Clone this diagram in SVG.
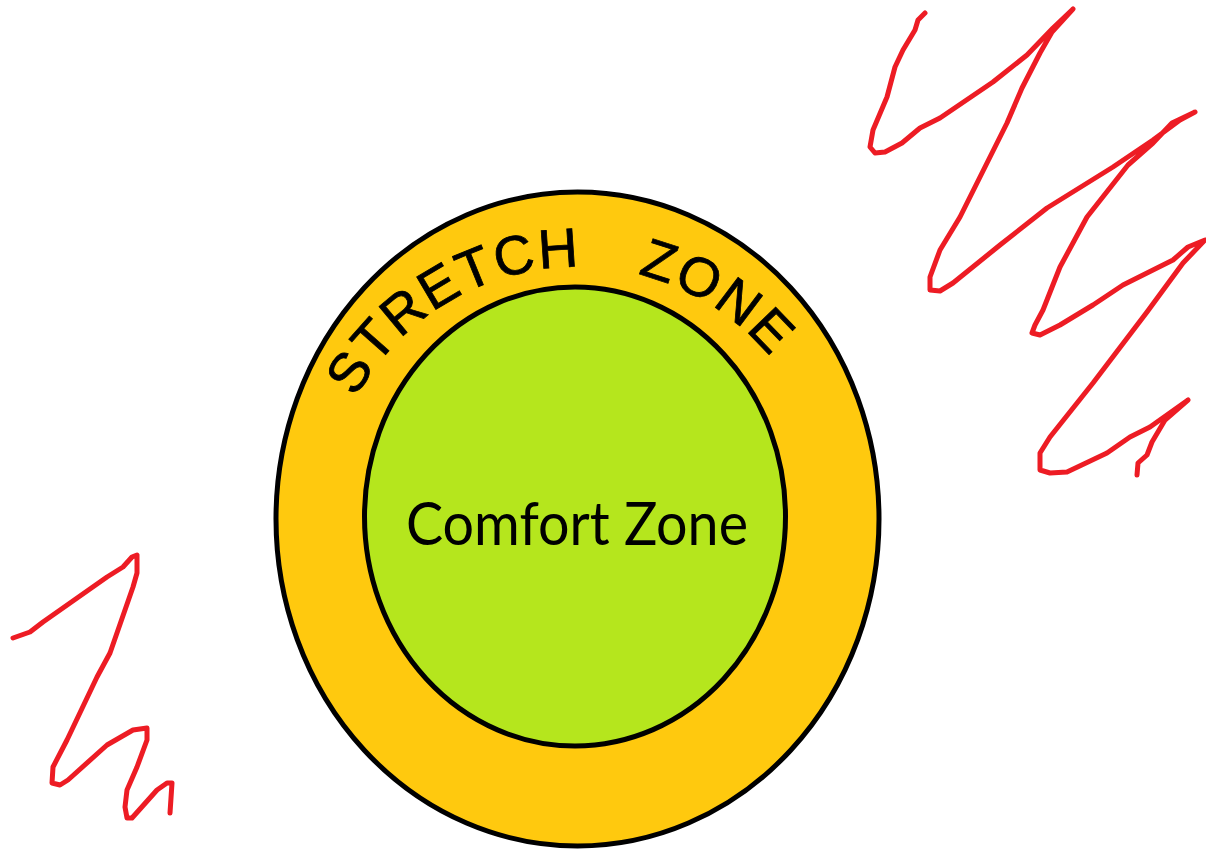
<svg xmlns="http://www.w3.org/2000/svg" width="1206" height="852" viewBox="0 0 1206 852">
<style>
.scribble{fill:none;stroke:#ED1C24;stroke-width:5;stroke-linecap:round;stroke-linejoin:round}
.zone{stroke:#000;stroke-width:5}
.stretch{font-family:"Liberation Sans",Arial,sans-serif;font-size:55px;fill:#000;stroke:#000;stroke-width:0.8;letter-spacing:2px;word-spacing:40px}
.comfort{font-family:Lato,"Open Sans",sans-serif;font-size:60px;fill:#000}
</style>
<defs>
<path id="arc" d="M 328.8 475.2 A 252 252 0 0 1 825.2 475.2"/>
</defs>
<rect width="1206" height="852" fill="#fff"/>
<g id="stretch-zone">
<ellipse class="zone" cx="577.5" cy="519" rx="301.5" ry="327" fill="#FFC90E"/>
<text class="stretch"><textPath href="#arc" startOffset="82">STRETCH ZONE</textPath></text>
</g>
<g id="comfort-zone">
<ellipse class="zone" cx="575" cy="516.5" rx="210.5" ry="229.5" fill="#B5E61D"/>
<text class="comfort" x="577" y="545" text-anchor="middle" textLength="342" lengthAdjust="spacingAndGlyphs">Comfort Zone</text>
</g>
<g id="scribbles">
<polyline class="scribble" points="925,13 918,20 915,30 903,50 895,67 887,97 873,130 870,147 875,153 885,152 902,143 920,128 940,118 993,82 1027,55 1053,28 1073,9 1052,32 1040,53 1022,88 1007,123 960,217 940,250 930,277 930,290 940,291 953,283 1000,245 1047,208 1113,167 1153,140 1180,120 1195,112 1172,123 1153,143 1128,165 1087,217 1060,267 1043,310 1035,325 1032,333 1040,335 1060,325 1093,305 1123,285 1173,260 1188,247 1205,240 1183,263 1147,312 1093,383 1050,437 1040,453 1040,470 1050,473 1067,472 1107,453 1130,437 1150,427 1188,400 1165,420 1152,442 1147,455 1138,463 1137,475"/>
<polyline class="scribble" points="13,638 30,632 43,622 107,577 123,567 132,557 137,555 137,573 133,587 110,653 97,677 67,740 53,767 52,783 60,785 68,780 107,745 133,730 147,728 147,740 137,767 127,790 125,807 127,818 132,818 157,790 167,783 172,783 170,813"/>
</g>
</svg>
